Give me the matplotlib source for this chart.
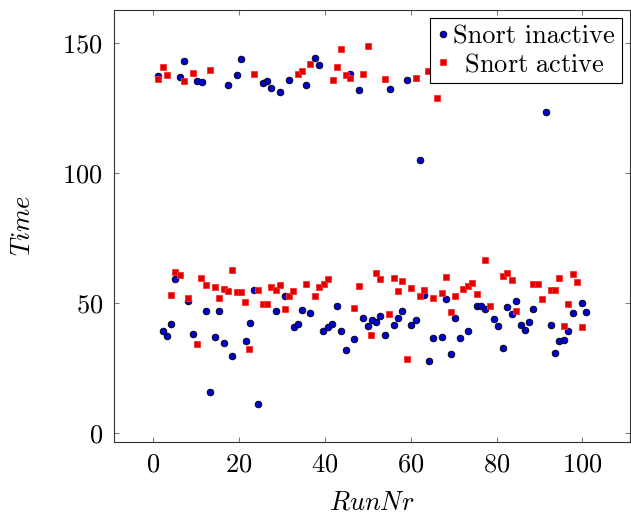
import matplotlib
matplotlib.use("Agg")
import matplotlib.pyplot as plt

plt.rcParams["font.family"] = "cmr10"
plt.rcParams["mathtext.fontset"] = "cm"
plt.rcParams["axes.formatter.use_mathtext"] = True
plt.rcParams["font.size"] = 19

# run numbers / times
inactive_x = [1.3, 2.3, 3.3, 4.3, 5.2, 6.3, 7.3, 8.3, 9.4, 10.4, 11.4, 12.4, 13.4, 14.5, 15.5,
              16.5, 17.5, 18.5, 19.5, 20.5, 21.6, 22.6, 23.6, 24.6, 25.6, 26.6, 27.6, 28.6, 29.7,
              30.7, 31.7, 32.8, 33.8, 34.8, 35.7, 36.7, 37.8, 38.8, 39.7, 40.8, 41.8, 42.9, 43.9,
              44.9, 45.9, 46.9, 48.0, 48.9, 50.0, 51.0, 52.0, 53.0, 54.0, 55.1, 56.1, 57.1, 58.1,
              59.2, 60.2, 61.2, 62.1, 63.2, 64.2, 65.2, 67.2, 68.3, 69.3, 70.3, 71.4, 73.4, 75.4,
              76.4, 77.4, 79.4, 80.4, 81.4, 82.5, 83.5, 84.6, 85.6, 86.6, 87.6, 88.6, 91.6, 92.6,
              93.6, 94.6, 95.7, 96.7, 97.7, 99.8, 100.8]
inactive_y = [137.4, 39.5, 37.5, 42.0, 59.2, 137.2, 143.3, 51.0, 38.2, 135.5, 135.1, 47.0, 15.9,
              37.0, 47.0, 34.7, 133.8, 29.9, 137.7, 144.0, 35.5, 42.4, 55.0, 11.2, 134.7, 135.4,
              132.9, 46.9, 131.3, 52.8, 136.0, 40.9, 42.2, 47.4, 134.1, 46.4, 144.5, 141.8, 39.5,
              40.8, 42.2, 49.0, 39.5, 32.0, 138.1, 36.2, 132.0, 44.2, 41.2, 43.6, 42.9, 45.1, 37.7,
              132.4, 41.5, 44.5, 47.0, 135.9, 41.8, 43.7, 105.1, 53.2, 27.7, 36.8, 36.9, 51.6, 30.6,
              44.3, 36.8, 39.3, 49.1, 49.1, 47.9, 44.0, 41.3, 32.7, 48.6, 45.8, 51.0, 41.5, 39.6,
              42.9, 47.7, 123.4, 41.5, 30.8, 35.6, 35.9, 39.2, 46.3, 50.2, 46.7]

active_x = [1.3, 2.3, 3.3, 4.3, 5.2, 6.3, 7.3, 8.3, 9.3, 10.4, 11.3, 12.4, 13.4, 14.5, 15.5, 16.5,
            17.5, 18.5, 19.5, 20.5, 21.5, 22.5, 23.5, 24.5, 25.6, 26.6, 27.6, 28.7, 29.7, 30.7,
            31.7, 32.7, 33.7, 34.7, 35.7, 36.7, 37.8, 38.8, 39.8, 40.8, 41.9, 42.9, 43.9, 44.9,
            46.0, 46.9, 48.0, 48.9, 50.0, 50.9, 52.0, 53.0, 54.0, 55.0, 56.1, 57.1, 58.1, 59.2,
            60.2, 61.2, 62.2, 63.2, 64.0, 65.2, 66.2, 67.2, 68.3, 69.3, 70.3, 72.3, 73.4, 74.4,
            75.4, 77.4, 78.4, 81.4, 82.5, 83.5, 84.6, 88.6, 89.6, 90.6, 92.6, 93.6, 94.6, 95.7,
            96.7, 97.7, 98.8, 99.8]
active_y = [136.3, 141.0, 137.9, 53.2, 62.2, 60.9, 135.6, 51.9, 138.7, 34.5, 59.6, 56.9, 139.6,
            56.3, 52.2, 55.4, 54.6, 62.7, 54.2, 54.2, 50.4, 32.3, 138.1, 55.1, 49.6, 49.9, 56.3,
            55.1, 56.9, 47.8, 52.9, 54.9, 138.3, 139.2, 57.3, 141.9, 52.9, 56.4, 57.3, 59.3, 135.8,
            141.0, 147.7, 137.8, 136.7, 48.1, 56.7, 138.1, 149.1, 37.7, 61.7, 59.2, 136.4, 46.0,
            59.6, 54.8, 58.7, 28.6, 56.0, 136.7, 52.8, 55.0, 139.5, 51.9, 128.8, 53.8, 60.2, 46.5,
            52.8, 55.6, 56.8, 57.8, 53.7, 66.8, 49.1, 60.6, 61.8, 59.1, 46.9, 57.3, 57.5, 51.7,
            55.1, 55.1, 59.8, 41.4, 49.6, 61.4, 58.2, 41.0]

fig = plt.figure(figsize=(6.31, 5.14), dpi=100)
ax = fig.add_axes([0.1807, 0.1407, 0.8173, 0.8398])

ax.plot(inactive_x, inactive_y, linestyle="none", marker="o", markersize=4.8,
        markerfacecolor="#0000cc", markeredgecolor="black", markeredgewidth=0.6,
        label="Snort inactive")
ax.plot(active_x, active_y, linestyle="none", marker="s", markersize=4.3,
        markerfacecolor="#e00000", markeredgecolor="#ff3030", markeredgewidth=0.6,
        label=r"$\mathrm{\ \,Snort\ active}$")

ax.set_xlim(-9, 111)
ax.set_ylim(-3.2, 162.8)
ax.set_xticks([0, 20, 40, 60, 80, 100])
ax.set_yticks([0, 50, 100, 150])

ax.tick_params(direction="in", length=3.5, width=0.8, color="#808080",
               top=True, right=True, pad=8)
for sp in ax.spines.values():
    sp.set_linewidth(0.8)
    sp.set_color("#333333")

ax.set_xlabel(r"$RunNr$", labelpad=10)
ax.set_ylabel(r"$Time$", labelpad=20)

leg = ax.legend(loc="upper right", bbox_to_anchor=(0.9845, 0.9815), fancybox=False,
                edgecolor="black", framealpha=1, handlelength=0.5, handletextpad=0.15,
                borderpad=0.25, labelspacing=0.15, borderaxespad=0, markerscale=1.0)
leg.get_frame().set_linewidth(0.8)

fig.savefig("out.png", dpi=100)
